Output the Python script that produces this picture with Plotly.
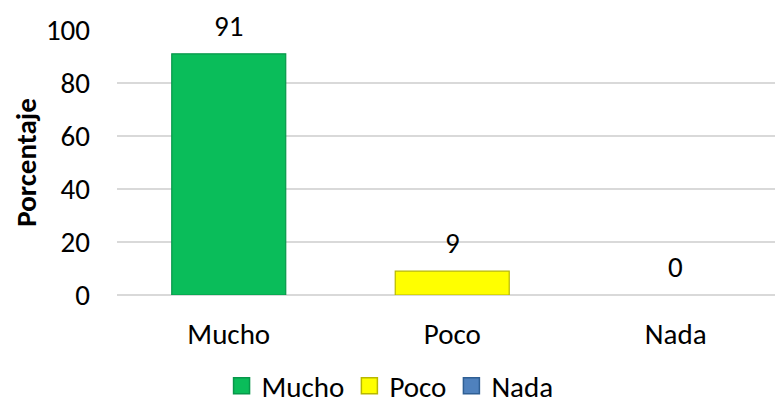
import plotly.graph_objects as go

categories = ["Mucho", "Poco", "Nada"]
values = [91, 9, 0]
colors = ["#0ABD5A", "#FFFF00", "#4F81BD"]
edge_colors = ["#07974A", "#B8B800", "#2F5F94"]
y_ticks = [0, 20, 40, 60, 80, 100]

FONT = "Carlito, Calibri, Lato, sans-serif"
FS = 29

fig = go.Figure()
for cat, val, col, edge in zip(categories, values, colors, edge_colors):
    fig.add_trace(go.Bar(
        x=[cat], y=[val], name=cat, showlegend=False,
        marker=dict(color=col, line=dict(color=edge, width=1.2 if val > 0 else 0)),
        width=0.51,
    ))
    fig.add_annotation(
        x=cat, y=val, text=str(val), showarrow=False,
        yshift=28, yanchor="middle",
        font=dict(family=FONT, size=FS, color="#000000"),
    )

# legend entries (square swatches like the original)
for cat, col, edge in zip(categories, colors, edge_colors):
    fig.add_trace(go.Scatter(
        x=[None], y=[None], name=cat, mode="markers",
        marker=dict(symbol="square", size=17, color=col, line=dict(color=edge, width=1.5)),
        showlegend=True,
    ))

fig.update_layout(
    width=775, height=420,
    margin=dict(l=109, r=0, t=22, b=133),
    paper_bgcolor="white", plot_bgcolor="white",
    barmode="overlay",
    font=dict(family=FONT, size=FS, color="#000000"),
    showlegend=True,
    legend=dict(
        orientation="h", x=0.41, xanchor="center",
        y=-0.343, yanchor="middle",
        bgcolor="rgba(0,0,0,0)",
        font=dict(family=FONT, size=FS),
        itemwidth=30, traceorder="normal",
    ),
    xaxis=dict(
        categoryorder="array", categoryarray=categories,
        range=[-0.5, 2.48], showgrid=False, showline=False,
        ticks="", ticklabelstandoff=19,
        tickfont=dict(family=FONT, size=FS),
    ),
    yaxis=dict(
        range=[0, 100], tickvals=y_ticks,
        showgrid=True, gridcolor="#D9D9D9", gridwidth=1.5,
        zeroline=True, zerolinecolor="#D9D9D9", zerolinewidth=1.5,
        showline=False, ticks="", ticklabelstandoff=26,
        tickfont=dict(family=FONT, size=FS),
        title=dict(text="<b>Porcentaje</b>", font=dict(family=FONT, size=FS), standoff=10),
    ),
)

fig.write_html("out.html")
